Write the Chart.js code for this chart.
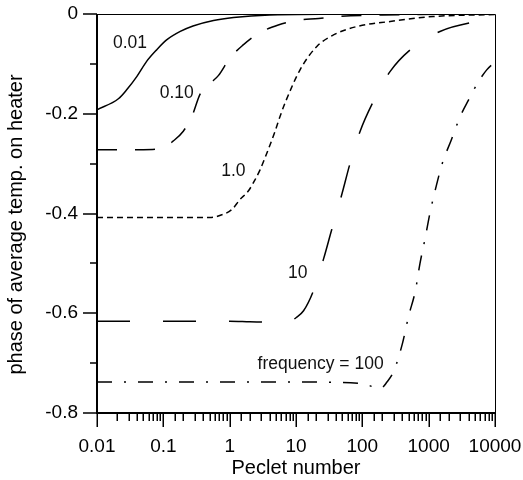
<!DOCTYPE html>
<html>
<head>
<meta charset="utf-8">
<script src="https://cdn.jsdelivr.net/npm/chart.js@4"></script>
<style>
  html, body { margin: 0; padding: 0; background: #fff; }
  #wrap { width: 523px; height: 480px; }
</style>
</head>
<body>
<div id="wrap"><canvas id="myChart"></canvas></div>
<script>
// curve "0.01" (solid)
const pe001 = [0.01, 0.021, 0.028, 0.04, 0.056, 0.079, 0.112, 0.18, 0.28, 0.57, 1.14, 4, 100, 10000];
const ph001 = [-0.192, -0.170, -0.152, -0.125, -0.095, -0.072, -0.052, -0.035, -0.024, -0.013, -0.007, -0.002, 0, 0];

// curve "0.10"
const pe010 = [0.01, 0.05, 0.1, 0.14, 0.2, 0.27, 0.36, 0.5, 0.68, 1.0, 1.6, 2.7, 5.4, 10, 22, 41, 200, 10000];
const ph010 = [-0.272, -0.272, -0.268, -0.255, -0.235, -0.205, -0.160, -0.140, -0.123, -0.089, -0.062, -0.039, -0.022, -0.013, -0.009, -0.005, -0.002, 0];

// curve "1.0"
const pe1 = [0.01, 0.5, 0.71, 1.08, 1.43, 1.91, 2.42, 2.88, 4.07, 4.84, 5.76, 6.86, 11.5, 20.6, 36.7, 83, 263, 1170, 10000];
const ph1 = [-0.408, -0.408, -0.404, -0.392, -0.372, -0.355, -0.332, -0.312, -0.262, -0.235, -0.205, -0.178, -0.112, -0.065, -0.042, -0.025, -0.015, -0.005, -0.001];

// curve "10"
const pe10 = [0.01, 1, 2, 5, 8, 10, 13, 18.3, 25.9, 34.6, 49, 65.5, 92.7, 147, 263, 558, 1480, 4470, 10000];
const ph10 = [-0.616, -0.616, -0.617, -0.618, -0.616, -0.609, -0.595, -0.555, -0.492, -0.432, -0.362, -0.299, -0.235, -0.175, -0.115, -0.069, -0.035, -0.017, -0.012];

// curve "frequency = 100" (dash-dot)
const pe100 = [0.01, 10, 100, 150, 190, 235, 300, 400, 500, 630, 740, 890, 1050, 1300, 1600, 2200, 3000, 4000, 5500, 7500, 10000];
const ph100 = [-0.738, -0.738, -0.741, -0.748, -0.750, -0.738, -0.715, -0.662, -0.605, -0.555, -0.500, -0.448, -0.398, -0.345, -0.300, -0.252, -0.205, -0.172, -0.138, -0.112, -0.096];

// curve labels
const labelText = ['0.01', '0.10', '1.0', '10', 'frequency = 100'];
const labelPe = [0.0315, 0.159, 1.14, 10.6, 23.5];
const labelPhase = [-0.058, -0.159, -0.316, -0.519, -0.702];

const yTitle = 'phase of average temp. on heater';
const FONT = "'Liberation Sans', Arial, sans-serif";

function pts(xs, ys) {
  return xs.map((x, i) => ({ x: x, y: ys[i] }));
}

function isDecade(v) {
  const l = Math.log10(v);
  return Math.abs(l - Math.round(l)) < 1e-6;
}

function noPad(s) {
  s.paddingLeft = 0; s.paddingRight = 0; s.paddingTop = 0; s.paddingBottom = 0;
}

const frame = {
  id: 'frame',
  afterDraw(chart) {
    const { ctx, chartArea: a, scales: { x, y } } = chart;
    ctx.save();
    ctx.strokeStyle = '#000';

    // top + right box
    ctx.lineWidth = 1;
    ctx.beginPath();
    ctx.moveTo(a.left, a.top + 0.5);
    ctx.lineTo(a.right + 0.5, a.top + 0.5);
    ctx.lineTo(a.right + 0.5, a.bottom);
    ctx.stroke();

    // left + bottom axes
    ctx.lineWidth = 2;
    ctx.beginPath();
    ctx.moveTo(a.left, a.top);
    ctx.lineTo(a.left, a.bottom);
    ctx.lineTo(a.right + 1, a.bottom);
    ctx.stroke();

    // x ticks (outside, down)
    ctx.lineWidth = 1.5;
    ctx.beginPath();
    x.ticks.forEach(t => {
      const px = Math.round(x.getPixelForValue(t.value)) + 0.25;
      const len = isDecade(t.value) ? 14 : 8;
      ctx.moveTo(px, a.bottom);
      ctx.lineTo(px, a.bottom + len);
    });
    // y ticks (outside, left)
    y.ticks.forEach(t => {
      const py = Math.round(y.getPixelForValue(t.value));
      const major = Math.round(t.value * 10) % 2 === 0;
      const len = major ? 14 : 7;
      ctx.moveTo(a.left, py);
      ctx.lineTo(a.left - len, py);
    });
    ctx.stroke();

    // y axis title, a little below the plot centre as in the original
    ctx.fillStyle = '#000';
    ctx.font = '20px ' + FONT;
    ctx.textAlign = 'center';
    ctx.textBaseline = 'middle';
    ctx.translate(16, (a.top + a.bottom) / 2 + 11);
    ctx.rotate(-Math.PI / 2);
    ctx.fillText(yTitle, 0, 0);
    ctx.restore();
  },
  afterDatasetsDraw(chart) {
    const { ctx, scales: { x, y } } = chart;
    ctx.save();
    ctx.fillStyle = '#111';
    ctx.font = '17.5px ' + FONT;
    ctx.textAlign = 'center';
    ctx.textBaseline = 'middle';
    labelText.forEach((s, i) => {
      ctx.fillText(s, x.getPixelForValue(labelPe[i]), y.getPixelForValue(labelPhase[i]));
    });
    ctx.restore();
  }
};

const line = (data, dash) => ({
  data: data,
  borderColor: '#000',
  borderWidth: 1.5,
  borderDash: dash,
  pointRadius: 0,
  fill: false,
  cubicInterpolationMode: 'monotone'
});

new Chart(document.getElementById('myChart'), {
  type: 'line',
  data: {
    datasets: [
      line(pts(pe001, ph001), []),
      line(pts(pe010, ph010), [20, 18]),
      line(pts(pe1, ph1), [6, 4]),
      line(pts(pe10, ph10), [33, 33]),
      line(pts(pe100, ph100), [15, 12, 2, 12])
    ]
  },
  options: {
    responsive: true,
    maintainAspectRatio: false,
    animation: false,
    layout: { padding: { left: 0, right: 28, top: 14, bottom: 0 } },
    plugins: { legend: { display: false }, tooltip: { enabled: false } },
    scales: {
      x: {
        type: 'logarithmic',
        min: 0.01,
        max: 10000,
        grid: { display: false, drawTicks: false },
        border: { display: false },
        ticks: {
          autoSkip: false,
          maxRotation: 0,
          padding: 22,
          color: '#000',
          font: { family: FONT, size: 19 },
          callback: v => isDecade(v) ? String(+v.toPrecision(6)) : ''
        },
        title: {
          display: true,
          text: 'Peclet number',
          color: '#000',
          font: { family: FONT, size: 20 },
          padding: { top: 0, bottom: 0 }
        },
        afterFit: s => { s.height = 67; noPad(s); }
      },
      y: {
        min: -0.8,
        max: 0,
        grid: { display: false, drawTicks: false },
        border: { display: false },
        ticks: {
          stepSize: 0.1,
          padding: 19,
          color: '#000',
          font: { family: FONT, size: 19 },
          callback: v => Math.round(v * 10) % 2 === 0 ? String(+v.toFixed(1)) : ''
        },
        afterFit: s => { s.width = 97; noPad(s); }
      }
    }
  },
  plugins: [frame]
});
</script>
</body>
</html>
